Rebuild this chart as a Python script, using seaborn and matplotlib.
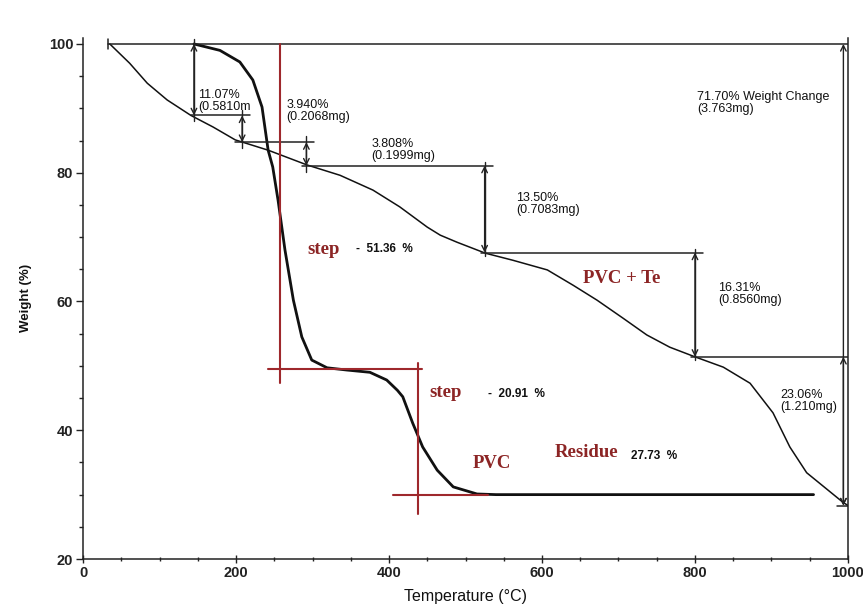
import pandas as pd
import matplotlib.pyplot as plt
import seaborn as sns

# TGA curves (temperature in C, weight in %)
te_temp = [35, 61, 84, 110, 141, 170, 199, 242, 293, 336, 379, 414, 450, 467,
           489, 526, 562, 607, 641, 672, 706, 737, 767, 800, 837, 872, 902, 924,
           946, 993, 1000]
te_weight = [100, 97.0, 93.9, 91.3, 88.9, 87.1, 85.1, 83.5, 81.2, 79.6, 77.3,
             74.7, 71.55, 70.3, 69.2, 67.5, 66.4, 64.9, 62.5, 60.2, 57.4, 54.8,
             52.9, 51.4, 49.8, 47.3, 42.7, 37.4, 33.4, 28.85, 28.3]

pvc_temp = [145, 179, 205, 222, 234, 242, 248, 255, 264, 275, 286, 299, 319,
            345, 375, 397, 411, 418, 431, 444, 463, 484, 515, 540, 955]
pvc_weight = [100, 99.0, 97.2, 94.4, 90.2, 83.5, 80.9, 75.7, 68.0, 60.2, 54.5,
              50.9, 49.7, 49.35, 49.0, 47.8, 46.2, 45.2, 41.1, 37.4, 33.8,
              31.2, 30.1, 30.0, 30.0]

# step levels (weight %) used by the dimension arrows
levels = [100, 88.9, 84.75, 81.1, 67.6, 51.4, 28.3]
arrow_x = [145, 208, 292, 525, 800, 994]
hline_span = [(33, 1000), (141, 218), (199, 302), (286, 536), (520, 810),
              (795, 1000), (985, 1000)]

step_labels = [("11.07%\n(0.5810m", 150, 91.2), ("3.940%\n(0.2068mg)", 266, 89.6),
               ("3.808%\n(0.1999mg)", 377, 83.6), ("13.50%\n(0.7083mg)", 566, 75.1),
               ("16.31%\n(0.8560mg)", 830, 61.1), ("23.06%\n(1.210mg)", 911, 44.6),
               ("71.70% Weight Change\n(3.763mg)", 803, 90.9)]

df_te = pd.DataFrame({"Temperature": te_temp, "Weight": te_weight})
df_pvc = pd.DataFrame({"Temperature": pvc_temp, "Weight": pvc_weight})

sns.set_theme(style="ticks")
plt.rcParams['font.family'] = ['Liberation Sans', 'DejaVu Sans']

RED = '#9e282c'
RED_TXT = '#8c2525'

fig = plt.figure(figsize=(8.63, 6.10), dpi=100)
ax = fig.add_axes([0.0962, 0.0836, 0.8864, 0.8549])

sns.lineplot(data=df_te, x="Temperature", y="Weight", sort=False, estimator=None,
             color='#111111', lw=1.1, ax=ax, solid_joinstyle='round')
sns.lineplot(data=df_pvc, x="Temperature", y="Weight", sort=False, estimator=None,
             color='#111111', lw=2.0, ax=ax, solid_joinstyle='round')

# horizontal reference lines
for (x0, x1), lv in zip(hline_span, levels):
    ax.plot([x0, x1], [lv, lv], color='#222222', lw=1.1)
ax.plot([33, 33], [99.2, 100.8], color='#222222', lw=1.1)


def dim_arrow(x, y0, y1, ext=0.0):
    if ext:
        ax.plot([x, x], [y0 + ext, y1 - ext], color='#222222', lw=1.0)
    ax.annotate('', xy=(x, y1), xytext=(x, y0),
                arrowprops=dict(arrowstyle='<->', color='#222222', lw=1.0,
                                shrinkA=0, shrinkB=0, mutation_scale=10))


dim_arrow(arrow_x[0], levels[0], levels[1], ext=0.8)
dim_arrow(arrow_x[1], levels[1], levels[2], ext=0.9)
dim_arrow(arrow_x[2], levels[2], levels[3], ext=1.0)
dim_arrow(arrow_x[3], levels[3], levels[4], ext=0.5)
dim_arrow(arrow_x[4], levels[4], levels[5], ext=0.5)
dim_arrow(arrow_x[5], levels[5], levels[6])
dim_arrow(arrow_x[5], levels[0], levels[6])

for txt, x, y in step_labels:
    ax.text(x, y, txt, fontsize=9, color='#111111', va='center', ha='left',
            linespacing=1.0)

# red step construction lines
ax.plot([257, 257], [100, 47.3], color=RED, lw=1.5)
ax.plot([242, 443], [49.5, 49.5], color=RED, lw=1.5)
ax.plot([438, 438], [50.4, 27.0], color=RED, lw=1.5)
ax.plot([405, 530], [29.9, 29.9], color=RED, lw=1.5)

serif = ['Liberation Serif', 'DejaVu Serif']
ax.text(293, 68.0, "step", family=serif, weight='bold', fontsize=13.5,
        color=RED_TXT, va='center')
ax.text(357, 68.1, "-  51.36  %", weight='bold', fontsize=8.5, color='#111111',
        va='center')
ax.text(453, 45.8, "step", family=serif, weight='bold', fontsize=13.5,
        color=RED_TXT, va='center')
ax.text(529, 45.6, "-  20.91  %", weight='bold', fontsize=8.5, color='#111111',
        va='center')
ax.text(510, 34.9, "PVC", family=serif, weight='bold', fontsize=13.5,
        color=RED_TXT, va='center')
ax.text(617, 36.5, "Residue", family=serif, weight='bold', fontsize=13.5,
        color=RED_TXT, va='center')
ax.text(717, 36.0, "27.73  %", weight='bold', fontsize=8.5, color='#111111',
        va='center')
ax.text(653, 63.6, "PVC + Te", family=serif, weight='bold', fontsize=13.5,
        color=RED_TXT, va='center')

ax.set_xlim(0, 1000)
ax.set_ylim(20, 101)
ax.set_xticks([0, 200, 400, 600, 800, 1000])
ax.set_xticks(range(0, 1001, 50), minor=True)
ax.set_yticks([20, 40, 60, 80, 100])
ax.set_yticks(range(20, 101, 5), minor=True)
ax.tick_params(axis='x', which='major', direction='inout', length=6, width=1,
               labelsize=10.5, pad=2, colors='#222222')
ax.tick_params(axis='x', which='minor', direction='inout', length=3, width=1,
               colors='#222222')
ax.tick_params(axis='y', which='major', direction='out', length=5, width=1,
               labelsize=10.5, pad=2, colors='#222222')
ax.tick_params(axis='y', which='minor', direction='out', length=3, width=1,
               colors='#222222')
for lab in ax.get_xticklabels() + ax.get_yticklabels():
    lab.set_fontweight('bold')

ax.set_xlabel("Temperature (°C)", fontsize=11.5, color='#111111')
ax.set_ylabel("Weight (%)", fontsize=9.5, weight='bold', color='#111111')
ax.xaxis.set_label_coords(0.5, -0.057)
ax.yaxis.set_label_coords(-0.067, 0.5)

for side in ['left', 'bottom', 'right']:
    ax.spines[side].set_color('#222222')
    ax.spines[side].set_linewidth(1.1)
ax.spines['top'].set_visible(False)

fig.savefig('out.png', dpi=100)
